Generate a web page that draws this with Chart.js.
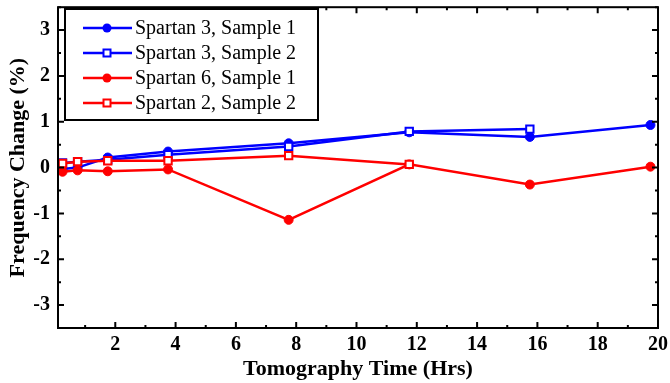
<!DOCTYPE html>
<html>
<head>
<meta charset="utf-8">
<script src="https://cdn.jsdelivr.net/npm/chart.js@4.4.0/dist/chart.umd.min.js"></script>
<style>
  html, body { margin: 0; padding: 0; background: #fff; }
  #wrap { width: 670px; height: 383px; }
</style>
</head>
<body>
<div id="wrap"><canvas id="grafico" width="670" height="383"></canvas></div>
<script>
// dados
const tempos = [0.25, 0.75, 1.75, 3.75, 7.75, 11.75, 15.75, 19.75];
const spartan3s1 = [-0.03, 0.0, 0.22, 0.35, 0.53, 0.77, 0.67, 0.93];
const spartan3s2 = [0.10, 0.13, 0.17, 0.28, 0.46, 0.79, 0.84, null];
const spartan6s1 = [-0.09, -0.06, -0.08, -0.04, -1.14, 0.07, -0.37, 0.02];
const spartan2s2 = [0.09, 0.13, 0.15, 0.15, 0.26, 0.07, null, null];
const nomes = ['Spartan 3, Sample 1', 'Spartan 3, Sample 2', 'Spartan 6, Sample 1', 'Spartan 2, Sample 2'];
const xTicks = [2, 4, 6, 8, 10, 12, 14, 16, 18, 20];
const yTicks = [-3, -2, -1, 0, 1, 2, 3];

const FONTE = '"Liberation Serif", "Times New Roman", serif';

function pontos(vals) {
    return tempos.map((t, i) => ({ x: t, y: vals[i] })).filter(p => p.y !== null);
}

// ordem: menor valor fica por cima
function serie(label, vals, cor, aberto, ordem) {
    return {
        label: label,
        data: pontos(vals),
        order: ordem,
        borderColor: cor,
        borderWidth: 2.5,
        pointStyle: aberto ? 'rect' : 'circle',
        pointRadius: aberto ? 5.2 : 4.5,
        pointBackgroundColor: aberto ? '#fff' : cor,
        pointBorderColor: cor,
        pointBorderWidth: aberto ? 2 : 1,
        tension: 0
    };
}

// moldura, ticks internos e legenda desenhados por plugin
const molduraPlugin = {
    id: 'moldura',
    afterDatasetsDraw(chart) {
        const { ctx, chartArea: a, scales } = chart;
        const sx = scales.x, sy = scales.y;
        ctx.save();
        ctx.strokeStyle = '#000';
        ctx.lineWidth = 2;
        ctx.strokeRect(a.left, a.top, a.right - a.left, a.bottom - a.top);
        ctx.beginPath();
        for (let v = 1; v <= 20; v++) {
            const px = sx.getPixelForValue(v);
            const len = v % 2 === 0 ? 6 : 3;
            ctx.moveTo(px, a.bottom); ctx.lineTo(px, a.bottom - len);
            ctx.moveTo(px, a.top); ctx.lineTo(px, a.top + len);
        }
        for (let v = -3.5; v <= 3.5; v += 0.5) {
            const py = sy.getPixelForValue(v);
            const len = Number.isInteger(v) ? 6 : 3;
            ctx.moveTo(a.left, py); ctx.lineTo(a.left + len, py);
            ctx.moveTo(a.right, py); ctx.lineTo(a.right - len, py);
        }
        ctx.stroke();

        // legenda (na ordem original dos datasets)
        const bx = 65, by = 9, bw = 253, bh = 111;
        ctx.fillStyle = '#fff';
        ctx.fillRect(bx, by, bw, bh);
        ctx.lineWidth = 2;
        ctx.strokeRect(bx, by, bw, bh);
        chart.data.datasets.forEach((ds, i) => {
            const y = 28 + i * 25;
            ctx.strokeStyle = ds.borderColor;
            ctx.lineWidth = ds.borderWidth;
            ctx.beginPath();
            ctx.moveTo(83, y); ctx.lineTo(132, y);
            ctx.stroke();
            ctx.fillStyle = ds.pointBackgroundColor;
            ctx.lineWidth = ds.pointBorderWidth;
            if (ds.pointStyle === 'rect') {
                ctx.fillRect(103.5, y - 3.5, 7, 7);
                ctx.strokeRect(103.5, y - 3.5, 7, 7);
            } else {
                ctx.beginPath();
                ctx.arc(107, y, 4.5, 0, Math.PI * 2);
                ctx.fill();
            }
            ctx.fillStyle = '#000';
            ctx.font = '20px ' + FONTE;
            ctx.textBaseline = 'middle';
            ctx.textAlign = 'left';
            ctx.fillText(ds.label, 135, y + 1);
        });
        ctx.restore();
    }
};

const ctx = document.getElementById('grafico').getContext('2d');
new Chart(ctx, {
    type: 'line',
    data: {
        datasets: [
            serie(nomes[0], spartan3s1, '#0000ff', false, 3),
            serie(nomes[1], spartan3s2, '#0000ff', true, 2),
            serie(nomes[2], spartan6s1, '#ff0000', false, 1),
            serie(nomes[3], spartan2s2, '#ff0000', true, 0)
        ]
    },
    options: {
        responsive: false,
        animation: false,
        layout: { padding: { top: 7, right: 12, left: 0, bottom: 0 } },
        plugins: { legend: { display: false }, tooltip: { enabled: false } },
        scales: {
            x: {
                type: 'linear',
                min: 0.1,
                max: 20,
                afterBuildTicks: s => { s.ticks = xTicks.map(v => ({ value: v })); },
                afterFit: s => { s.height = 55; s.paddingLeft = 0; s.paddingRight = 0; },
                grid: { display: false, drawTicks: false },
                border: { display: false },
                ticks: { color: '#000', padding: 5, font: { family: FONTE, size: 20, weight: 'bold' } },
                title: { display: true, text: 'Tomography Time (Hrs)', color: '#000', padding: 0,
                         font: { family: FONTE, size: 22, weight: 'bold' } }
            },
            y: {
                min: -3.5,
                max: 3.5,
                afterBuildTicks: s => { s.ticks = yTicks.map(v => ({ value: v })); },
                afterFit: s => { s.width = 58; s.paddingTop = 0; s.paddingBottom = 0; },
                grid: { display: false, drawTicks: false },
                border: { display: false },
                ticks: { color: '#000', padding: 8, font: { family: FONTE, size: 20, weight: 'bold' } },
                title: { display: true, text: 'Frequency Change (%)', color: '#000', padding: { top: 5, bottom: 0 },
                         font: { family: FONTE, size: 22, weight: 'bold' } }
            }
        }
    },
    plugins: [molduraPlugin]
});
</script>
</body>
</html>
